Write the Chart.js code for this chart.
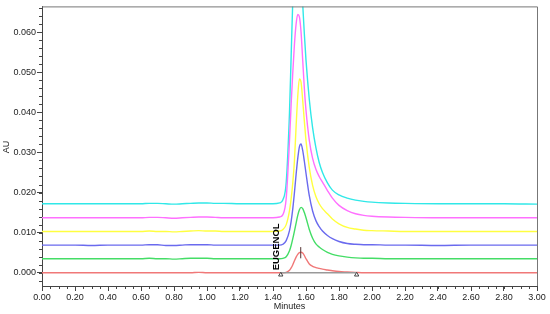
<!DOCTYPE html>
<html lang="en">
<head>
<meta charset="UTF-8">
<title>EUGENOL chromatogram</title>
<script src="https://cdn.jsdelivr.net/npm/chart.js"></script>
<style>
    body { margin: 0; background: #ffffff; }
    #wrap { width: 550px; height: 314px; }
</style>
</head>
<body>
<div id="wrap"><canvas id="chrom" width="550" height="314"></canvas></div>
<script>
// retention time grid (minutes)
const times = [0, 0.1, 0.2, 0.3, 0.4, 0.5, 0.6, 0.65, 0.7, 0.75, 0.8, 0.85, 0.9, 0.95, 1.0, 1.05, 1.1, 1.2, 1.3, 1.4,
    1.44, 1.46, 1.48,
    1.50, 1.51, 1.52, 1.53, 1.54, 1.55, 1.56, 1.57, 1.58, 1.59, 1.60,
    1.62, 1.64, 1.66, 1.68, 1.70,
    1.73, 1.76, 1.80, 1.85, 1.90, 1.95, 2.0,
    2.1, 2.2, 2.4, 2.6, 2.8, 3.0];

// absorbance traces (AU), one per injection
const redAU = [0, 0, 0, 0, 0, 0, 0, 0, 0, 0, 0, 0, 0, 0.0001, 0, 0, 0, 0, 0, 0,
    0, 0, 0.0001,
    0.0006, 0.0012, 0.0020, 0.0030, 0.0039, 0.0046, 0.0050, 0.0051, 0.0049, 0.0043, 0.0035,
    0.0022, 0.0016, 0.0013, 0.0011, 0.0009,
    0.0007, 0.0005, 0.0003, 0.0002, 0.0001, 0, 0,
    0, 0, 0, 0, 0, 0];
const greenAU = [0.0035, 0.0035, 0.0035, 0.0035, 0.0035, 0.0035, 0.0035, 0.0036, 0.0035, 0.0035, 0.0034, 0.0035, 0.0036, 0.0036, 0.0036, 0.0035, 0.0035, 0.0035, 0.0035, 0.0035,
    0.0035, 0.0036, 0.0040,
    0.0055, 0.0068, 0.0085, 0.0104, 0.0124, 0.0143, 0.0157, 0.0163, 0.0160, 0.0150, 0.0137,
    0.0108, 0.0086, 0.0072, 0.0064, 0.0058,
    0.0051, 0.0046, 0.0042, 0.0039, 0.0037, 0.0036, 0.0036,
    0.0035, 0.0035, 0.0035, 0.0035, 0.0035, 0.0035];
const blueAU = [0.0069, 0.0069, 0.0069, 0.0068, 0.0069, 0.0069, 0.0069, 0.0070, 0.0070, 0.0068, 0.0068, 0.0069, 0.0070, 0.0070, 0.0070, 0.0069, 0.0069, 0.0069, 0.0069, 0.0069,
    0.0069, 0.0071, 0.0080,
    0.0105, 0.0128, 0.0160, 0.0200, 0.0245, 0.0285, 0.0314, 0.0321, 0.0305, 0.0278, 0.0248,
    0.0192, 0.0154, 0.0130, 0.0115, 0.0104,
    0.0093, 0.0085, 0.0078, 0.0073, 0.0071, 0.0070, 0.0070,
    0.0069, 0.0069, 0.0068, 0.0069, 0.0069, 0.0069];
const yellowAU = [0.0103, 0.0103, 0.0103, 0.0103, 0.0103, 0.0103, 0.0103, 0.0104, 0.0103, 0.0103, 0.0102, 0.0103, 0.0104, 0.0105, 0.0104, 0.0104, 0.0103, 0.0103, 0.0103, 0.0103,
    0.0104, 0.0108, 0.0120,
    0.0155, 0.0185, 0.0225, 0.0280, 0.0365, 0.0440, 0.0483, 0.0475, 0.0430, 0.0378, 0.0330,
    0.0262, 0.0218, 0.0190, 0.0172, 0.0160,
    0.0147, 0.0134, 0.0122, 0.0113, 0.0109, 0.0106, 0.0105,
    0.0104, 0.0103, 0.0103, 0.0103, 0.0103, 0.0103];
const magentaAU = [0.0137, 0.0137, 0.0137, 0.0137, 0.0137, 0.0137, 0.0137, 0.0138, 0.0138, 0.0137, 0.0136, 0.0137, 0.0138, 0.0139, 0.0139, 0.0138, 0.0137, 0.0137, 0.0137, 0.0137,
    0.0139, 0.0145, 0.0185,
    0.0330, 0.0420, 0.0500, 0.0570, 0.0620, 0.0644, 0.0638, 0.0600, 0.0530, 0.0460, 0.0405,
    0.0330, 0.0285, 0.0258, 0.0240, 0.0226,
    0.0205, 0.0186, 0.0168, 0.0155, 0.0147, 0.0143, 0.0141,
    0.0139, 0.0138, 0.0137, 0.0137, 0.0137, 0.0137];
const cyanAU = [0.0172, 0.0172, 0.0172, 0.0172, 0.0172, 0.0172, 0.0172, 0.0173, 0.0173, 0.0172, 0.0171, 0.0172, 0.0173, 0.0174, 0.0174, 0.0173, 0.0173, 0.0172, 0.0172, 0.0172,
    0.0174, 0.0182, 0.0225,
    0.0400, 0.0540, 0.0680, 0.0770, 0.0815, 0.0825, 0.0805, 0.0745, 0.0670, 0.0595, 0.0530,
    0.0432, 0.0362, 0.0312, 0.0275, 0.0250,
    0.0224, 0.0206, 0.0194, 0.0186, 0.0181, 0.0178, 0.0176,
    0.0174, 0.0173, 0.0172, 0.0172, 0.0172, 0.0171];

// integration marks on the EUGENOL peak
const peakStartEnd = [1.447, 1.907];
const peakApex = 1.568;
const apexMarkAU = [0.0036, 0.0064];

// axis ticks
const xTickValues = [0, 0.2, 0.4, 0.6, 0.8, 1.0, 1.2, 1.4, 1.6, 1.8, 2.0, 2.2, 2.4, 2.6, 2.8, 3.0];
const yTickValues = [0, 0.01, 0.02, 0.03, 0.04, 0.05, 0.06];

function toPoints(values) {
    return times.map((t, i) => ({ x: t, y: values[i] }));
}

function trace(values, color) {
    return {
        data: toPoints(values),
        borderColor: color,
        borderWidth: 1.4,
        pointRadius: 0,
        cubicInterpolationMode: 'monotone'
    };
}

// minor ticks, frame and annotation text
const decorPlugin = {
    id: 'decor',
    afterDraw(chart) {
        const ctx = chart.ctx;
        const xs = chart.scales.x, ys = chart.scales.y;
        const a = chart.chartArea;
        ctx.save();
        ctx.strokeStyle = '#444';
        ctx.lineWidth = 1;
        ctx.beginPath();
        for (let i = 0; i <= 60; i++) {
            const px = Math.round(xs.getPixelForValue(i * 0.05)) + 0.5;
            ctx.moveTo(px, a.bottom);
            ctx.lineTo(px, a.bottom + 3);
        }
        for (let i = -1; i <= 33; i++) {
            const py = Math.round(ys.getPixelForValue(i * 0.002)) + 0.5;
            if (py < a.top || py > a.bottom) continue;
            ctx.moveTo(a.left, py);
            ctx.lineTo(a.left - 3, py);
        }
        ctx.stroke();
        // frame top and right
        ctx.strokeStyle = '#777';
        ctx.beginPath();
        ctx.moveTo(a.left, a.top + 0.5);
        ctx.lineTo(a.right + 0.5, a.top + 0.5);
        ctx.lineTo(a.right + 0.5, a.bottom);
        ctx.stroke();

        ctx.fillStyle = '#222';
        ctx.font = '9px "Liberation Sans", Arial, sans-serif';
        ctx.textAlign = 'center';
        ctx.textBaseline = 'middle';
        ctx.fillText('Minutes', (a.left + a.right) / 2, 307);
        ctx.save();
        ctx.translate(7, 147);
        ctx.rotate(-Math.PI / 2);
        ctx.fillText('AU', 0, 0);
        ctx.restore();

        // peak name
        ctx.save();
        ctx.fillStyle = '#000';
        ctx.font = 'bold 9.5px "Liberation Sans", Arial, sans-serif';
        ctx.textAlign = 'left';
        ctx.translate(xs.getPixelForValue(1.416) + 0.5, ys.getPixelForValue(0.0006));
        ctx.rotate(-Math.PI / 2);
        ctx.fillText('EUGENOL', 0, 0);
        ctx.restore();
        ctx.restore();
    }
};

new Chart(document.getElementById('chrom'), {
    type: 'line',
    data: {
        datasets: [
            {
                data: [{ x: peakApex, y: apexMarkAU[0] }, { x: peakApex, y: apexMarkAU[1] }],
                borderColor: '#553333',
                borderWidth: 1,
                pointRadius: 0
            },
            {
                data: peakStartEnd.map(t => ({ x: t, y: -0.0005 })),
                showLine: false,
                pointStyle: 'triangle',
                pointRadius: 2.5,
                pointBorderColor: '#444',
                pointBackgroundColor: '#ffffff',
                pointBorderWidth: 1
            },
            {
                data: peakStartEnd.map(t => ({ x: t, y: 0 })),
                borderColor: '#999999',
                borderWidth: 1.5,
                pointRadius: 0
            },
            trace(redAU, '#f07878'),
            trace(greenAU, '#44dd66'),
            trace(blueAU, '#6a6aee'),
            trace(yellowAU, '#ffff40'),
            trace(magentaAU, '#ff70ff'),
            trace(cyanAU, '#30e8e8')
        ]
    },
    options: {
        responsive: false,
        animation: false,
        events: [],
        layout: { padding: { left: 0, top: 5, right: 13, bottom: 0 } },
        plugins: {
            legend: { display: false },
            tooltip: { enabled: false }
        },
        scales: {
            x: {
                type: 'linear',
                min: 0,
                max: 3,
                afterBuildTicks: s => { s.ticks = xTickValues.map(v => ({ value: v })); },
                afterFit: s => { s.height = 28; },
                grid: { drawOnChartArea: false, tickLength: 5, tickColor: '#444' },
                border: { color: '#444' },
                ticks: {
                    padding: 1,
                    maxRotation: 0,
                    autoSkip: false,
                    color: '#222',
                    font: { family: '"Liberation Sans", Arial, sans-serif', size: 9 },
                    callback: v => Number(v).toFixed(2)
                }
            },
            y: {
                type: 'linear',
                min: -0.0033,
                max: 0.0664,
                afterBuildTicks: s => { s.ticks = yTickValues.map(v => ({ value: v })); },
                afterFit: s => { s.width = 42; },
                grid: { drawOnChartArea: false, tickLength: 5, tickColor: '#444' },
                border: { color: '#444' },
                ticks: {
                    padding: 1,
                    autoSkip: false,
                    color: '#222',
                    font: { family: '"Liberation Sans", Arial, sans-serif', size: 9 },
                    callback: v => Number(v).toFixed(3)
                }
            }
        }
    },
    plugins: [decorPlugin]
});
</script>
</body>
</html>
